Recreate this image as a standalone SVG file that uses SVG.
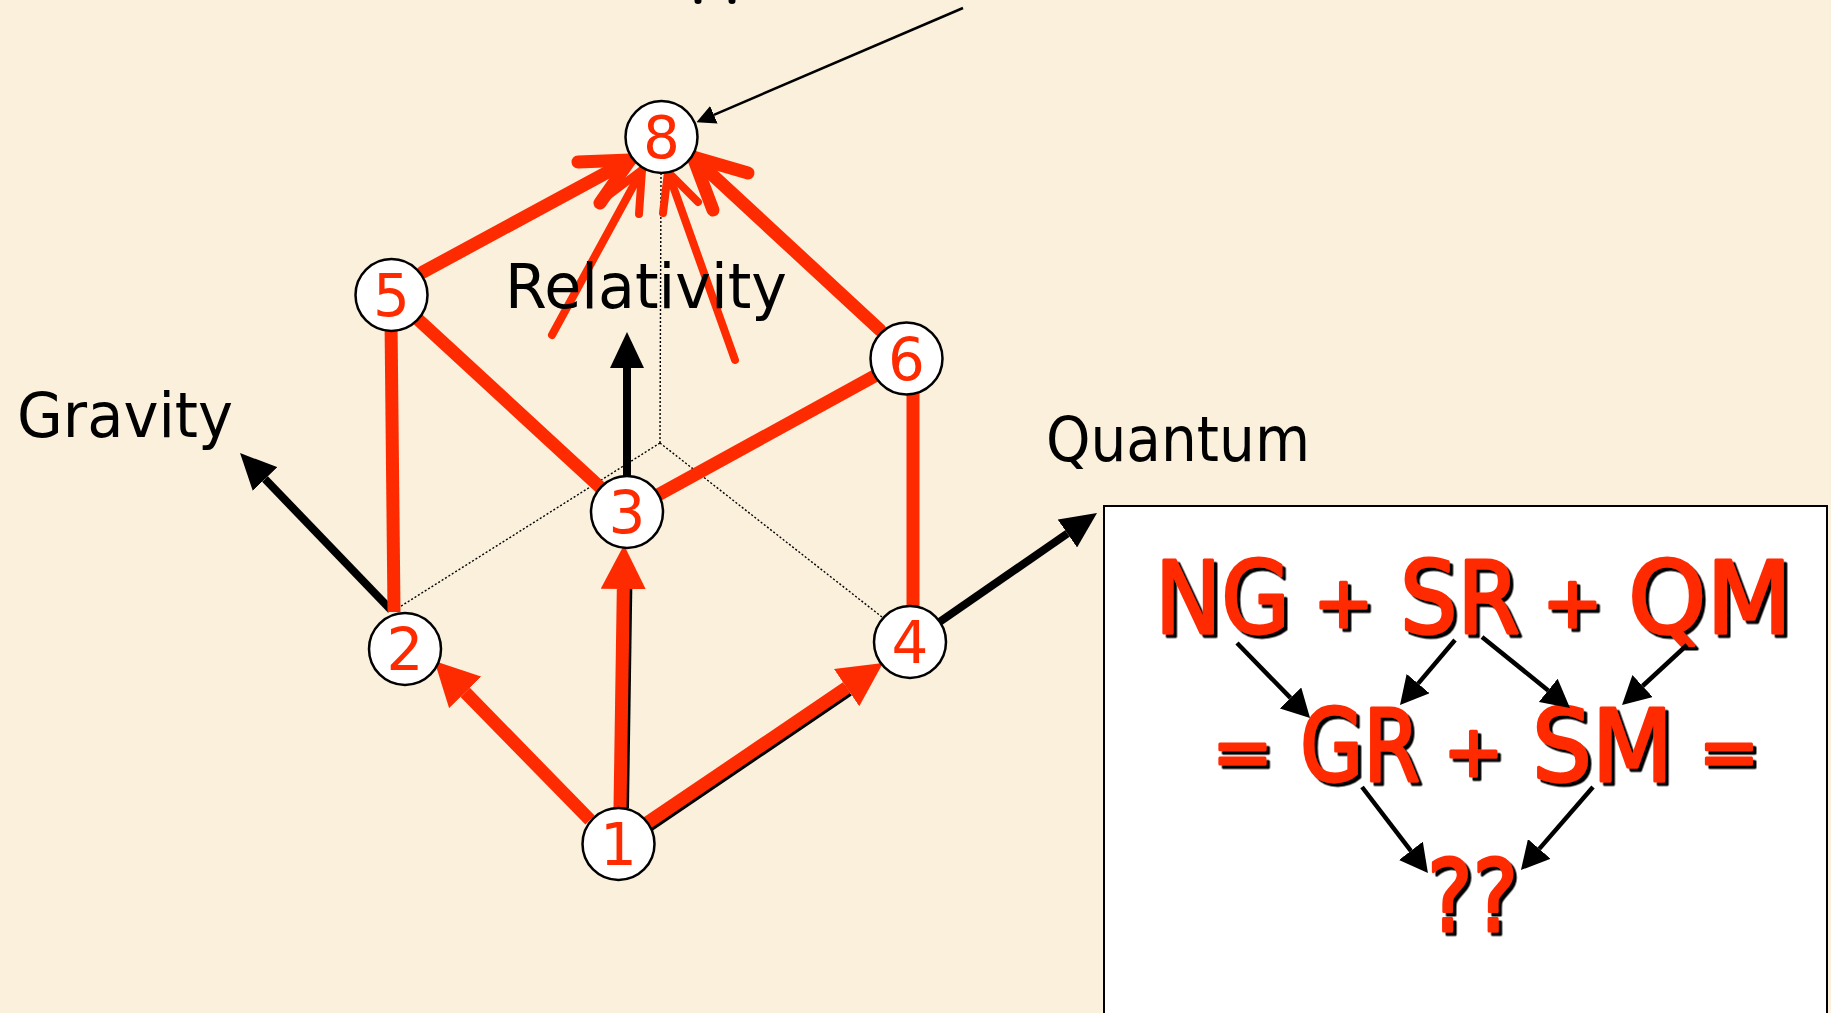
<svg xmlns="http://www.w3.org/2000/svg" width="1831" height="1013" viewBox="0 0 1831 1013">
<defs>
<style>
.red{stroke:#FF2B00;fill:none;stroke-width:13}
.redv{stroke:#FF2B00;fill:none;stroke-width:13;stroke-linecap:round;stroke-linejoin:round}
.redt{stroke:#FF2B00;fill:none;stroke-width:8;stroke-linecap:round;stroke-linejoin:round}
.sh{stroke:#000;fill:none;stroke-width:13}
.blk{stroke:#000;fill:none;stroke-width:8}
.thin{stroke:#000;fill:none;stroke-width:2.5}
.bx{stroke:#000;fill:none;stroke-width:4.5}
.dot{stroke:#000;fill:none;stroke-width:1.4;stroke-dasharray:2 2}
.node circle{fill:#fff;stroke:#000;stroke-width:2.5}
.node text{font-family:"DejaVu Sans",sans-serif;font-size:58px;fill:#FF2B00;text-anchor:middle}
.lbl{font-family:"DejaVu Sans",sans-serif;font-size:62px;fill:#000}
.eq{font-family:"DejaVu Sans",sans-serif;font-size:100px;fill:#FF2B00;stroke:#FF2B00;stroke-width:3;stroke-linejoin:round;filter:url(#ds)}
.op{font-family:"DejaVu Sans",sans-serif;font-size:72px;fill:#FF2B00;stroke:#FF2B00;stroke-width:3;stroke-linejoin:round;filter:url(#ds);text-anchor:middle}
</style>
<filter id="ds" x="-10%" y="-10%" width="130%" height="130%">
<feDropShadow dx="3.5" dy="3.5" stdDeviation="0" flood-color="#000" flood-opacity="1"/>
</filter>
<marker id="hBig" viewBox="0 0 36 34" refX="0" refY="17" markerWidth="36" markerHeight="34" markerUnits="userSpaceOnUse" orient="auto"><path d="M0,0 L36,17 L0,34 Z" fill="#000"/></marker>
<marker id="hTop" viewBox="0 0 19 19" refX="0" refY="9.5" markerWidth="19" markerHeight="19" markerUnits="userSpaceOnUse" orient="auto"><path d="M0,0 L19,9.5 L0,19 Z" fill="#000"/></marker>
<marker id="hBox" viewBox="0 0 28 30" refX="0" refY="15" markerWidth="28" markerHeight="30" markerUnits="userSpaceOnUse" orient="auto"><path d="M0,0 L28,15 L0,30 Z" fill="#000"/></marker>
<marker id="hRed" viewBox="0 0 44 45" refX="0" refY="22.5" markerWidth="44" markerHeight="45" markerUnits="userSpaceOnUse" orient="auto"><path d="M0,0 L44,22.5 L0,45 Z" fill="#FF2B00"/></marker>
</defs>
<rect x="0" y="0" width="1831" height="1013" fill="#FAF0DC"/>
<ellipse cx="698" cy="1" rx="3.5" ry="3" fill="#000"/>
<ellipse cx="732" cy="1" rx="3.5" ry="3" fill="#000"/>

<g id="connectors">
<line class="dot" x1="661" y1="173" x2="660" y2="443"/>
<line class="dot" x1="660" y1="443" x2="398" y2="608"/>
<line class="dot" x1="660" y1="443" x2="882" y2="617"/>
<line class="blk" x1="391" y1="610" x2="265" y2="479" marker-end="url(#hBig)"/>
<line class="blk" x1="627" y1="480" x2="627" y2="368" marker-end="url(#hBig)"/>
<line class="blk" x1="938" y1="623" x2="1067.4" y2="533.5" marker-end="url(#hBig)"/>
<line class="thin" x1="963" y1="8" x2="713.9" y2="114.8" marker-end="url(#hTop)"/>
<line class="red" x1="391" y1="320" x2="394" y2="612"/>
<line class="red" x1="391.5" y1="295" x2="627" y2="512"/>
<line class="red" x1="627" y1="512" x2="906.5" y2="358.5"/>
<line class="red" x1="913" y1="385" x2="913" y2="615"/>
<line class="sh" x1="622.5" y1="808" x2="625.8" y2="589"/>
<line class="red" x1="620" y1="808" x2="623.3" y2="589" marker-end="url(#hRed)"/>
<line class="red" x1="590" y1="820" x2="465.2" y2="692.4" marker-end="url(#hRed)"/>
<line class="sh" x1="648.5" y1="825.5" x2="848.1" y2="690.2"/>
<line class="red" x1="647" y1="823" x2="846.6" y2="687.7" marker-end="url(#hRed)"/>
<line class="redv" x1="423" y1="272" x2="630" y2="160"/>
<polyline class="redv" points="578,162 630,160 600,203"/>
<line class="redv" x1="880" y1="330" x2="693" y2="157"/>
<polyline class="redv" points="748,173 693,157 713,210"/>
<line class="redt" x1="552" y1="335" x2="642" y2="170"/>
<polyline class="redt" points="605,198 642,170 639,214"/>
<line class="redt" x1="735" y1="360" x2="668" y2="172"/>
<polyline class="redt" points="698,202 668,172 663,213"/>
</g>

<g id="node1" class="node"><circle cx="618.5" cy="844" r="36"/><text x="618.5" y="865">1</text></g>
<g id="node2" class="node"><circle cx="405" cy="649" r="36"/><text x="405" y="670">2</text></g>
<g id="node3" class="node"><circle cx="627" cy="512" r="36"/><text x="627" y="533">3</text></g>
<g id="node4" class="node"><circle cx="910" cy="642" r="36"/><text x="910" y="663">4</text></g>
<g id="node5" class="node"><circle cx="391.5" cy="295" r="36"/><text x="391.5" y="316">5</text></g>
<g id="node6" class="node"><circle cx="906.5" cy="358.5" r="36"/><text x="906.5" y="379.5">6</text></g>
<g id="node8" class="node"><circle cx="661.5" cy="137" r="36"/><text x="661.5" y="158">8</text></g>

<g id="labels">
<text class="lbl" x="17" y="437" textLength="216" lengthAdjust="spacingAndGlyphs">Gravity</text>
<text class="lbl" x="505" y="308" textLength="282" lengthAdjust="spacingAndGlyphs">Relativity</text>
<text class="lbl" x="1046" y="461" textLength="264" lengthAdjust="spacingAndGlyphs">Quantum</text>
</g>

<g id="equation-box">
<rect x="1104" y="506" width="723" height="520" fill="#fff" stroke="#000" stroke-width="2"/>
<text class="eq" x="1155" y="633" textLength="135" lengthAdjust="spacingAndGlyphs">NG</text>
<text class="op" x="1343.5" y="627">+</text>
<text class="eq" x="1400" y="633" textLength="120" lengthAdjust="spacingAndGlyphs">SR</text>
<text class="op" x="1572.5" y="627">+</text>
<text class="eq" x="1628" y="633" textLength="164" lengthAdjust="spacingAndGlyphs">QM</text>
<text class="op" x="1242.5" y="776">=</text>
<text class="eq" x="1300" y="781" textLength="120" lengthAdjust="spacingAndGlyphs">GR</text>
<text class="op" x="1473.5" y="776">+</text>
<text class="eq" x="1532" y="781" textLength="141" lengthAdjust="spacingAndGlyphs">SM</text>
<text class="op" x="1729" y="776">=</text>
<text class="eq" x="1427" y="931" textLength="91" lengthAdjust="spacingAndGlyphs">??</text>
<line class="bx" x1="1237" y1="643" x2="1290.5" y2="697.9" marker-end="url(#hBox)"/>
<line class="bx" x1="1455" y1="640" x2="1418.1" y2="683.6" marker-end="url(#hBox)"/>
<line class="bx" x1="1482" y1="637" x2="1548.2" y2="690.4" marker-end="url(#hBox)"/>
<line class="bx" x1="1687" y1="645" x2="1642.6" y2="686" marker-end="url(#hBox)"/>
<line class="bx" x1="1362" y1="787" x2="1410.9" y2="850.8" marker-end="url(#hBox)"/>
<line class="bx" x1="1593" y1="787" x2="1539.3" y2="848.9" marker-end="url(#hBox)"/>
</g>
</svg>
